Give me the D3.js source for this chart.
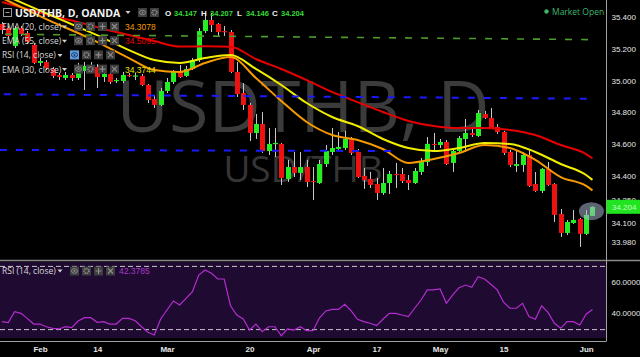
<!DOCTYPE html>
<html>
<head>
<meta charset="utf-8">
<script src="https://cdnjs.cloudflare.com/ajax/libs/d3/7.8.5/d3.min.js"></script>
<style>
  body { margin: 0; background: #000; }
  svg { display: block; font-family: "Liberation Sans", Arial, sans-serif; }
</style>
</head>
<body>
<div class="chart"></div>
<script>
// daily candles, index 0 = Jan 24 ... index 93 = Jun 2 (weekdays only)
const opens = [
  35.358, 35.332, 35.219, 35.332, 35.301, 35.225, 35.112, 35.118, 35.074, 35.036,
  35.017, 35.036, 35.017, 35.061, 35.093, 35.086, 35.023, 35.042, 34.998, 34.998,
  35.036, 35.030, 35.030, 34.973, 34.884, 34.847, 34.935, 34.992, 35.055, 35.030,
  35.074, 35.130, 35.313, 35.383, 35.358, 35.313, 35.307, 35.055, 34.922, 34.847,
  34.670, 34.727, 34.556, 34.601, 34.601, 34.380, 34.455, 34.418, 34.455, 34.367,
  34.354, 34.474, 34.550, 34.569, 34.575, 34.632, 34.550, 34.399, 34.380, 34.348,
  34.291, 34.354, 34.411, 34.411, 34.373, 34.354, 34.424, 34.487, 34.601, 34.594,
  34.613, 34.481, 34.556, 34.632, 34.670, 34.651, 34.790, 34.765, 34.708, 34.676,
  34.550, 34.462, 34.468, 34.531, 34.348, 34.304, 34.443, 34.348, 34.159, 34.039,
  34.102, 34.127, 34.033, 34.147
];
const highs = [
  35.370, 35.345, 35.345, 35.345, 35.313, 35.238, 35.143, 35.130, 35.086, 35.048,
  35.055, 35.048, 35.112, 35.118, 35.118, 35.105, 35.067, 35.055, 35.017, 35.055,
  35.048, 35.048, 35.042, 34.979, 34.910, 34.954, 35.017, 35.067, 35.099, 35.093,
  35.143, 35.332, 35.421, 35.427, 35.364, 35.345, 35.320, 35.118, 34.985, 34.859,
  34.790, 34.802, 34.701, 34.701, 34.607, 34.500, 34.550, 34.550, 34.500, 34.455,
  34.500, 34.594, 34.701, 34.676, 34.683, 34.645, 34.569, 34.449, 34.424, 34.386,
  34.449, 34.430, 34.481, 34.449, 34.405, 34.449, 34.512, 34.645, 34.670, 34.632,
  34.626, 34.563, 34.651, 34.758, 34.708, 34.815, 34.809, 34.828, 34.727, 34.683,
  34.563, 34.556, 34.550, 34.563, 34.424, 34.449, 34.487, 34.354, 34.190, 34.121,
  34.184, 34.134, 34.184, 34.207
];
const lows = [
  35.294, 35.269, 35.206, 35.282, 35.231, 35.105, 35.093, 35.067, 35.017, 35.004,
  35.004, 34.998, 35.004, 34.941, 35.055, 34.954, 34.992, 34.979, 34.985, 34.985,
  35.023, 35.004, 34.966, 34.859, 34.828, 34.840, 34.922, 34.979, 35.017, 35.023,
  35.067, 35.118, 35.301, 35.307, 35.276, 35.282, 35.048, 34.897, 34.815, 34.619,
  34.632, 34.544, 34.531, 34.518, 34.342, 34.361, 34.392, 34.373, 34.329, 34.247,
  34.348, 34.455, 34.531, 34.563, 34.563, 34.531, 34.386, 34.317, 34.323, 34.247,
  34.279, 34.285, 34.323, 34.354, 34.310, 34.348, 34.405, 34.462, 34.556, 34.575,
  34.468, 34.424, 34.544, 34.550, 34.645, 34.645, 34.758, 34.695, 34.664, 34.531,
  34.455, 34.424, 34.424, 34.329, 34.298, 34.291, 34.336, 34.108, 34.014, 34.026,
  34.096, 33.951, 34.026, 34.146
];
const closes = [
  35.320, 35.282, 35.332, 35.294, 35.244, 35.112, 35.124, 35.080, 35.030, 35.023,
  35.036, 35.017, 35.067, 35.093, 35.086, 35.023, 35.042, 34.992, 35.004, 35.036,
  35.030, 35.033, 34.973, 34.878, 34.847, 34.935, 34.992, 35.055, 35.023, 35.074,
  35.130, 35.313, 35.383, 35.351, 35.307, 35.307, 35.055, 34.916, 34.847, 34.670,
  34.727, 34.556, 34.601, 34.607, 34.386, 34.455, 34.418, 34.455, 34.361, 34.361,
  34.474, 34.556, 34.575, 34.582, 34.632, 34.544, 34.392, 34.373, 34.342, 34.291,
  34.354, 34.411, 34.405, 34.367, 34.354, 34.430, 34.487, 34.601, 34.594, 34.613,
  34.474, 34.556, 34.638, 34.670, 34.657, 34.796, 34.765, 34.701, 34.676, 34.544,
  34.468, 34.474, 34.531, 34.336, 34.304, 34.443, 34.342, 34.153, 34.039, 34.108,
  34.121, 34.033, 34.153, 34.204
];

// moving averages every 4 candles
const emaIdx = [0, 4, 8, 12, 16, 20, 24, 28, 32, 36, 40, 44, 48, 52, 56, 60, 64, 68, 72, 76, 80, 84, 88, 92, 93];
const ema20 = [35.522, 35.446, 35.370, 35.301, 35.225, 35.143, 35.067, 35.055, 35.112, 35.149, 35.017, 34.872, 34.739,
  34.657, 34.626, 34.569, 34.481, 34.506, 34.544, 34.594, 34.575, 34.500, 34.392, 34.336, 34.308];
const ema30 = [35.547, 35.477, 35.408, 35.339, 35.269, 35.193, 35.130, 35.112, 35.143, 35.162, 35.074, 34.973, 34.859,
  34.771, 34.714, 34.632, 34.575, 34.556, 34.575, 34.607, 34.601, 34.550, 34.474, 34.405, 34.374];
const ema55 = [35.496, 35.452, 35.408, 35.370, 35.326, 35.288, 35.250, 35.215, 35.218, 35.214, 35.137, 35.074, 35.004,
  34.929, 34.865, 34.802, 34.746, 34.714, 34.701, 34.701, 34.689, 34.657, 34.594, 34.537, 34.510];

// RSI(14), one value per candle
const rsi = [
  34.7, 34.1, 41.0, 40.0, 36.8, 33.2, 33.2, 31.5, 30.5, 30.1,
  31.5, 30.9, 35.1, 37.2, 37.2, 34.3, 34.7, 33.2, 33.2, 36.8,
  36.8, 35.3, 31.5, 28.0, 26.3, 36.4, 42.1, 47.8, 45.3, 49.5,
  53.7, 64.2, 67.4, 65.3, 61.7, 61.7, 44.8, 38.9, 36.4, 29.4,
  33.2, 28.4, 31.5, 31.5, 25.8, 30.1, 29.4, 31.5, 29.0, 29.0,
  37.0, 41.5, 42.5, 42.5, 45.7, 41.5, 36.2, 34.7, 33.7, 32.2,
  36.2, 40.0, 40.0, 38.9, 37.9, 43.2, 48.4, 54.8, 54.8, 55.4,
  46.3, 51.6, 56.2, 57.9, 56.5, 63.2, 61.7, 58.4, 54.8, 47.0,
  43.2, 43.2, 46.3, 37.9, 36.2, 44.8, 40.6, 33.7, 30.5, 34.7,
  34.7, 32.6, 39.4, 42.3785
];

// drawn trend lines: [start index, start price, end index, end price]
const greenLine = [0.5, 35.293, 93, 35.259];
const blueLines = [[0.3, 34.914, 93, 34.886], [-0.3, 34.563, 62.5, 34.556]];

const tickIdx = [6, 15, 26, 39, 49, 59, 69, 79, 92];
const tickLabels = ["Feb", "14", "Mar", "20", "Apr", "17", "May", "15", "Jun"];
const priceTicks = [35.4, 35.2, 35.0, 34.8, 34.6, 34.4, 34.25, 34.1, 33.98];
const rsiTicks = [60, 40];
const rsiBands = [70, 30];

const legendNames = ["EMA (20, close)", "EMA (55, close)", "RSI (14, close)", "EMA (30, close)"];
const legendValues = ["34.3078", "34.5095", "", "34.3744"];
const rsiValueText = "42.3785";

const width = 640, height = 357;
const paneRight = 606.5;

const svg = d3.select(".chart").append("svg").attr("width", width).attr("height", height);
svg.append("rect").attr("width", width).attr("height", height).attr("fill", "#000");

//scales
const x = d3.scaleLinear().domain([0, 92]).range([1.9, 586.1]);
const y = d3.scaleLinear().domain([33.98, 35.4]).range([242.3, 17.3]);
const yRsi = d3.scaleLinear().domain([40, 60]).range([313.3, 281.7]);

const defs = svg.append("defs");
defs.append("clipPath").attr("id", "priceClip")
  .append("rect").attr("x", 0).attr("y", 0).attr("width", paneRight).attr("height", 259);
defs.append("clipPath").attr("id", "rsiClip")
  .append("rect").attr("x", 0).attr("y", 262).attr("width", paneRight).attr("height", 76);

//watermark
svg.append("text").attr("x", 303).attr("y", 132).attr("text-anchor", "middle")
  .attr("font-family", "Open Sans").attr("font-size", 72).attr("fill", "#3b3b3b").text("USDTHB, D");
svg.append("text").attr("x", 303).attr("y", 182).attr("text-anchor", "middle")
  .attr("font-family", "Open Sans").attr("font-size", 37).attr("fill", "#353535").text("USD/THB");

const price = svg.append("g").attr("clip-path", "url(#priceClip)");

//candles
const candles = d3.range(opens.length);
price.selectAll("line.wick").data(candles).enter().append("line")
  .attr("class", "wick")
  .attr("x1", (i) => Math.round(x(i)) + 0.5)
  .attr("x2", (i) => Math.round(x(i)) + 0.5)
  .attr("y1", (i) => y(highs[i]))
  .attr("y2", (i) => y(lows[i]))
  .attr("stroke", "#c8c8c8").attr("stroke-width", 1);

price.selectAll("rect.body").data(candles).enter().append("rect")
  .attr("class", "body")
  .attr("x", (i) => Math.round(x(i)) - 2)
  .attr("width", 5)
  .attr("y", (i) => y(Math.max(opens[i], closes[i])))
  .attr("height", (i) => Math.max(1.2, Math.abs(y(opens[i]) - y(closes[i]))))
  .attr("fill", (i) => (closes[i] >= opens[i] ? "#22ee22" : "#ee1111"));

//emas
const emaLine = (vals) => d3.line()
  .x((d, k) => x(emaIdx[k]))
  .y((d) => y(d))
  .curve(d3.curveMonotoneX)(vals);
price.append("path").attr("d", emaLine(ema55)).attr("fill", "none").attr("stroke", "#e60000").attr("stroke-width", 2);
price.append("path").attr("d", emaLine(ema30)).attr("fill", "none").attr("stroke", "#f2ee00").attr("stroke-width", 2);
price.append("path").attr("d", emaLine(ema20)).attr("fill", "none").attr("stroke", "#f59a00").attr("stroke-width", 2);

//trend lines
price.append("line")
  .attr("x1", x(greenLine[0])).attr("y1", y(greenLine[1]))
  .attr("x2", x(greenLine[2])).attr("y2", y(greenLine[3]))
  .attr("stroke", "#4f9a2c").attr("stroke-width", 1.6).attr("stroke-dasharray", "7,9");
price.selectAll("line.blue").data(blueLines).enter().append("line")
  .attr("class", "blue")
  .attr("x1", (d) => x(d[0])).attr("y1", (d) => y(d[1]))
  .attr("x2", (d) => x(d[2])).attr("y2", (d) => y(d[3]))
  .attr("stroke", "#1a1aff").attr("stroke-width", 2).attr("stroke-dasharray", "7,9");

//last bar highlight
const last = opens.length - 1;
price.append("ellipse").attr("cx", x(last) - 1).attr("cy", y((highs[last] + lows[last]) / 2))
  .attr("rx", 12.5).attr("ry", 9).attr("fill", "#a8b6d0").attr("opacity", 0.55);

//rsi pane
svg.append("rect").attr("x", 0).attr("y", 262).attr("width", paneRight).attr("height", 76).attr("fill", "#1f0a31");
svg.selectAll("line.band").data(rsiBands).enter().append("line")
  .attr("class", "band")
  .attr("x1", 0).attr("x2", paneRight)
  .attr("y1", (d) => yRsi(d) + 0.5).attr("y2", (d) => yRsi(d) + 0.5)
  .attr("stroke", "#c8c8c8").attr("stroke-dasharray", "5,3");
svg.append("path")
  .attr("clip-path", "url(#rsiClip)")
  .attr("d", d3.line().x((d, i) => x(i)).y((d) => yRsi(d))(rsi))
  .attr("fill", "none").attr("stroke", "#b52dd0").attr("stroke-width", 1.2);

//frame lines
svg.append("line").attr("x1", 0).attr("x2", width).attr("y1", 260.5).attr("y2", 260.5).attr("stroke", "#8a8a8a").attr("stroke-width", 1.5);
svg.append("line").attr("x1", paneRight).attr("x2", paneRight).attr("y1", 0).attr("y2", 341).attr("stroke", "#a0a0a0");
svg.append("line").attr("x1", 0).attr("x2", paneRight).attr("y1", 341.5).attr("y2", 341.5).attr("stroke", "#a0a0a0");

//axes
const styleAxis = (g) => {
  g.select(".domain").remove();
  g.selectAll("text").attr("fill", "#e6e6e6").attr("font-size", 8);
};
svg.append("g").attr("transform", `translate(${paneRight},0)`)
  .call(d3.axisRight(y).tickValues(priceTicks).tickSize(0).tickPadding(5).tickFormat(d3.format(".3f")))
  .call(styleAxis);
svg.append("g").attr("transform", `translate(${paneRight},0)`)
  .call(d3.axisRight(yRsi).tickValues(rsiTicks).tickSize(0).tickPadding(5).tickFormat(d3.format(".4f")))
  .call(styleAxis);
svg.append("g").attr("transform", "translate(0,341)")
  .call(d3.axisBottom(x).tickValues(tickIdx).tickSize(0).tickPadding(5).tickFormat((d, i) => tickLabels[i]))
  .call(styleAxis)
  .call((g) => g.selectAll("text").attr("font-weight", "bold"));

//last price label
svg.append("rect").attr("x", paneRight).attr("y", y(closes[last]) - 7).attr("width", 34).attr("height", 14).attr("fill", "#1fe41f");
svg.append("text").attr("x", 612).attr("y", y(closes[last]) + 3).attr("font-size", 8).attr("fill", "#c6ffc6")
  .text(d3.format(".3f")(closes[last]));

//legend buttons
function buttons(x0, yTop, count, highlight) {
  const icons = ["eye", "gear", "plus", "cross"];
  for (let k = 0; k < count; k++) {
    const g = svg.append("g").attr("transform", `translate(${x0 + k * 12},${yTop})`);
    const on = highlight && k === 0;
    g.append("rect").attr("width", 9).attr("height", 9).attr("fill", on ? "#5f9fe0" : "#3e3e3e");
    const c = on ? "#163a66" : "#8c8c8c";
    if (icons[k] === "eye") {
      g.append("ellipse").attr("cx", 4.5).attr("cy", 4.5).attr("rx", 3).attr("ry", 2.3).attr("fill", "none").attr("stroke", c);
      g.append("circle").attr("cx", 4.5).attr("cy", 4.5).attr("r", 1).attr("fill", c);
    } else if (icons[k] === "gear") {
      g.append("circle").attr("cx", 4.5).attr("cy", 4.5).attr("r", 2.4).attr("fill", "none").attr("stroke", c).attr("stroke-width", 1.6).attr("stroke-dasharray", "1.2,0.8");
    } else if (icons[k] === "plus") {
      g.append("path").attr("d", "M4.5,1.5V7.5M1.5,4.5H7.5").attr("stroke", c).attr("stroke-width", 1.2);
    } else {
      g.append("path").attr("d", "M2,2L7,7M7,2L2,7").attr("stroke", c).attr("stroke-width", 1.2);
    }
  }
}
const caret = (cx, cy) => svg.append("path").attr("d", `M${cx - 2.5},${cy - 1.5}L${cx + 2.5},${cy - 1.5}L${cx},${cy + 1.5}Z`).attr("fill", "#d0d0d0");

//header
svg.append("rect").attr("x", 3.5).attr("y", 8.5).attr("width", 8).attr("height", 8).attr("fill", "none").attr("stroke", "#9a9a9a");
svg.append("line").attr("x1", 5.5).attr("x2", 9.5).attr("y1", 12.5).attr("y2", 12.5).attr("stroke", "#9a9a9a");
svg.append("text").attr("x", 15).attr("y", 17).attr("font-family", "Open Sans").attr("font-weight", "bold")
  .attr("font-size", 10.5).attr("fill", "#f2f2f2").text("USD/THB, D, OANDA");
caret(128, 12.5);
buttons(138, 8, 2, false);
const ohlc = [["O", opens[last], 165], ["H", highs[last], 201], ["L", lows[last], 237], ["C", closes[last], 272]];
ohlc.forEach((d) => {
  svg.append("text").attr("x", d[2]).attr("y", 16).attr("font-weight", "bold").attr("font-size", 8).attr("fill", "#f0f0f0").text(d[0]);
  svg.append("text").attr("x", d[2] + 9).attr("y", 16).attr("font-weight", "bold").attr("font-size", 7.5).attr("fill", "#33dd33")
    .text(d3.format(".3f")(d[1]));
});

//indicator legend rows
const legendColors = ["#f59a00", "#e60000", "", "#e8e400"];
legendNames.forEach((name, k) => {
  const base = 30 + k * 14.2;
  const isRsi = name.startsWith("RSI");
  svg.append("text").attr("x", 2).attr("y", base).attr("font-family", "Open Sans").attr("font-size", 8.5)
    .attr("fill", "#d8d8d8").text(name);
  caret(isRsi ? 60 : 64.5, base - 3);
  buttons(isRsi ? 70 : 74, base - 8, 4, isRsi);
  if (legendValues[k]) {
    svg.append("text").attr("x", 125).attr("y", base).attr("font-size", 8.5)
      .attr("fill", legendColors[k]).text(legendValues[k]);
  }
});

//rsi legend
svg.append("text").attr("x", 2).attr("y", 274).attr("font-family", "Open Sans").attr("font-size", 8.5)
  .attr("fill", "#d8d8d8").text(legendNames[2]);
caret(60, 271);
buttons(70, 266.5, 4, false);
svg.append("text").attr("x", 119).attr("y", 274).attr("font-size", 8.5).attr("fill", "#a63cc8").text(rsiValueText);

//market status
svg.append("circle").attr("cx", 546.5).attr("cy", 11.5).attr("r", 2.2).attr("fill", "#3fb56a");
svg.append("text").attr("x", 552).attr("y", 14.5).attr("font-family", "Open Sans").attr("font-size", 8.5)
  .attr("fill", "#3fb56a").text("Market Open");
</script>
</body>
</html>
